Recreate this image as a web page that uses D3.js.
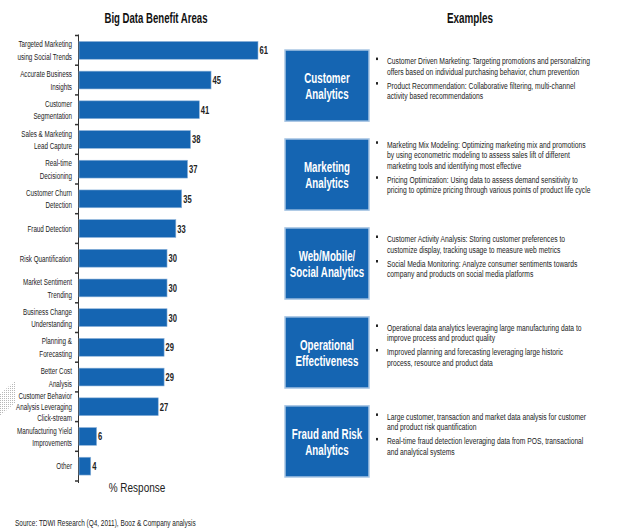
<!DOCTYPE html>
<html>
<head>
    <meta charset="utf-8">
    <title>Big Data Benefit Areas</title>
    <script src="https://d3js.org/d3.v7.min.js"></script>
    <style>
        body { margin: 0; background: #fff; }
        svg text { font-family: "Liberation Sans", Arial, sans-serif; }
    </style>
</head>
<body>
<div id="vis"></div>
<script>
    // left chart data
    var categories = [
        ["Targeted Marketing", "using Social Trends"],
        ["Accurate Business", "Insights"],
        ["Customer", "Segmentation"],
        ["Sales & Marketing", "Lead Capture"],
        ["Real-time", "Decisioning"],
        ["Customer Churn", "Detection"],
        ["Fraud Detection"],
        ["Risk Quantification"],
        ["Market Sentiment", "Trending"],
        ["Business Change", "Understanding"],
        ["Planning &", "Forecasting"],
        ["Better Cost", "Analysis"],
        ["Customer Behavior", "Analysis Leveraging", "Click-stream"],
        ["Manufacturing Yield", "Improvements"],
        ["Other"]
    ];
    var values = [61, 45, 41, 38, 37, 35, 33, 30, 30, 30, 29, 29, 27, 6, 4];

    // right panel data
    var areas = [
        ["Customer", "Analytics"],
        ["Marketing", "Analytics"],
        ["Web/Mobile/", "Social Analytics"],
        ["Operational", "Effectiveness"],
        ["Fraud and Risk", "Analytics"]
    ];
    var examples = [
        [["Customer Driven Marketing: Targeting promotions and personalizing", "offers based on individual purchasing behavior, churn prevention"],
         ["Product Recommendation: Collaborative filtering, multi-channel", "activity based recommendations"]],
        [["Marketing Mix Modeling: Optimizing marketing mix and promotions", "by using econometric modeling to assess sales lift of different", "marketing tools and identifying most effective"],
         ["Pricing Optimization: Using data to assess demand sensitivity to", "pricing to optimize pricing through various points of product life cycle"]],
        [["Customer Activity Analysis: Storing customer preferences to", "customize display, tracking usage to measure web metrics"],
         ["Social Media Monitoring: Analyze consumer sentiments towards", "company and products on social media platforms"]],
        [["Operational data analytics leveraging large manufacturing data to", "improve process and product quality"],
         ["Improved planning and  forecasting leveraging large historic", "process, resource and product data"]],
        [["Large customer, transaction and market data analysis for customer", "and product risk quantification"],
         ["Real-time fraud detection leveraging data from POS, transactional", "and analytical systems"]]
    ];

    var blue = "#1565b2";
    var W = 618, H = 529;

    var svg = d3.select("#vis").append("svg")
        .attr("width", W)
        .attr("height", H);

    // text helper: the slide uses a narrow face, so squeeze horizontally
    function txt(parent, x, y, s, size, opts) {
        opts = opts || {};
        return parent.append("text")
            .attr("transform", "translate(" + x + "," + y + ") scale(" + (opts.sx || 1) + ",1)")
            .attr("text-anchor", opts.anchor || "start")
            .attr("font-size", size)
            .attr("font-weight", opts.weight || "normal")
            .attr("fill", opts.fill || "#222")
            .text(s);
    }

    // ---------- left: bar chart ----------
    var x = d3.scaleLinear()
        .domain([0, d3.max(values)])
        .range([79, 258]);

    var y = d3.scaleBand()
        .domain(d3.range(values.length))
        .range([35.5, 481])
        .paddingInner(0.4)
        .paddingOuter(0.2);

    var left = svg.append("g");

    txt(left, 156, 23, "Big Data Benefit Areas", 15, {anchor: "middle", weight: "bold", sx: 0.64, fill: "#111"});

    // axis line + ticks at band boundaries
    var step = y.step();
    left.append("line")
        .attr("x1", x(0) - 0.5).attr("x2", x(0) - 0.5)
        .attr("y1", y.range()[0] - 1).attr("y2", y.range()[1] + 2)
        .attr("stroke", "#333").attr("stroke-width", 1);
    left.selectAll("line.tick")
        .data(d3.range(values.length + 1))
        .enter().append("line")
        .attr("class", "tick")
        .attr("x1", x(0) - 4).attr("x2", x(0) - 0.5)
        .attr("y1", function(i) { return y.range()[0] + i * step; })
        .attr("y2", function(i) { return y.range()[0] + i * step; })
        .attr("stroke", "#333").attr("stroke-width", 1.5);

    left.selectAll("rect.bar")
        .data(values)
        .enter().append("rect")
        .attr("class", "bar")
        .attr("x", x(0))
        .attr("y", function(d, i) { return y(i); })
        .attr("width", function(d) { return x(d) - x(0); })
        .attr("height", y.bandwidth())
        .attr("fill", blue)
        .attr("stroke", "#8fb4da")
        .attr("stroke-width", 0.6);

    values.forEach(function(v, i) {
        txt(left, x(v) + 1.5, y(i) + y.bandwidth() / 2 + 4, v, 11.5, {weight: "bold", sx: 0.66, fill: "#222"});
    });

    categories.forEach(function(lines, i) {
        var cy = y(i) + y.bandwidth() / 2;
        var lh = lines.length > 2 ? 11 : 12.5;
        var top = cy - (lines.length - 1) * lh / 2;
        lines.forEach(function(s, j) {
            txt(left, 72, top + j * lh + 3.3, s, 9.5, {anchor: "end", sx: 0.66});
        });
    });

    txt(left, 137, 492, "% Response", 12.5, {anchor: "middle", sx: 0.8});

    txt(svg, 15, 526, "Source:  TDWI Research (Q4, 2011), Booz & Company analysis", 8.5, {sx: 0.76});

    // small hatched mark on the left edge
    var pat = svg.append("defs").append("pattern")
        .attr("id", "hatch")
        .attr("width", 2).attr("height", 2)
        .attr("patternUnits", "userSpaceOnUse");
    pat.append("rect").attr("width", 1).attr("height", 1).attr("fill", "#b8b8b8");
    svg.append("polygon")
        .attr("points", "0,394 16,380 16,402 0,416")
        .attr("fill", "url(#hatch)");

    // ---------- right: examples ----------
    var right = svg.append("g");

    txt(right, 470, 23, "Examples", 15, {anchor: "middle", weight: "bold", sx: 0.66, fill: "#111"});

    var by = d3.scaleBand()
        .domain(d3.range(areas.length))
        .range([50, 477])
        .paddingInner(0.2);

    areas.forEach(function(lines, i) {
        var top = by(i), h = by.bandwidth();
        right.append("rect")
            .attr("x", 285).attr("y", top)
            .attr("width", 84).attr("height", h)
            .attr("fill", blue)
            .attr("stroke", "#a9c6e4")
            .attr("stroke-width", 1.5);
        var cy = top + h / 2;
        lines.forEach(function(s, j) {
            txt(right, 327, cy + (j - 0.5) * 16 + 5.5, s, 15, {anchor: "middle", weight: "bold", sx: 0.65, fill: "#fff"});
        });

        // bullets, block centred a little above the box centre
        var bullets = examples[i];
        var lh = 10.5, gap = 14;
        var nLines = d3.sum(bullets, function(b) { return b.length; });
        var blockH = (nLines - bullets.length) * lh + (bullets.length - 1) * gap;
        var ly = cy - 7 - blockH / 2;
        bullets.forEach(function(b) {
            right.append("rect")
                .attr("x", 376).attr("y", ly - 3.5)
                .attr("width", 2).attr("height", 2.5)
                .attr("fill", "#222");
            b.forEach(function(s, j) {
                txt(right, 387, ly + 3, s, 9.5, {sx: 0.71, fill: "#222"});
                if (j < b.length - 1) ly += lh;
            });
            ly += gap;
        });
    });
</script>
</body>
</html>
